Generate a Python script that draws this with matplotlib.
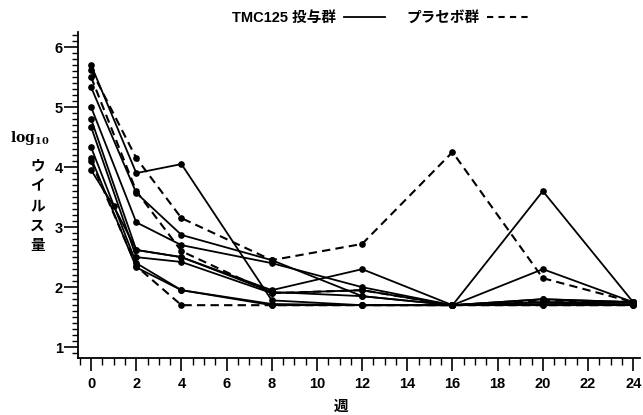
import numpy as np
import matplotlib
matplotlib.use('Agg')
import matplotlib.pyplot as plt
from matplotlib.lines import Line2D
from matplotlib.ticker import MultipleLocator

# フォント設定（日本語対応）
plt.rcParams['font.family'] = ['Liberation Sans', 'Noto Sans CJK JP']
plt.rcParams['axes.unicode_minus'] = False

# 測定週
weeks = [0, 1, 2, 4, 8, 12, 16, 20, 24]
nan = np.nan

# TMC125 投与群（実線）
tmc_1 = [5.70, nan, 3.90, 4.05, 1.78, 1.70, 1.70, 1.75, 1.75]
tmc_2 = [5.33, nan, 3.57, 2.87, 2.45, 1.85, 1.70, 3.60, 1.75]
tmc_3 = [5.00, nan, 3.08, 2.70, 2.40, 2.00, 1.70, 1.80, 1.75]
tmc_4 = [4.80, nan, 2.62, 2.50, 1.95, 2.30, 1.70, 2.30, 1.75]
tmc_5 = [4.67, nan, 2.50, 2.42, 1.90, 1.95, 1.70, 1.75, 1.70]
tmc_6 = [4.33, nan, 2.40, 1.95, 1.70, 1.70, 1.70, 1.70, 1.70]
tmc_7 = [3.95, 3.35, 2.62, 2.50, 1.92, 1.85, 1.70, 1.80, 1.75]
tmc_8 = [4.15, nan, 2.33, 1.95, 1.72, 1.70, 1.70, 1.72, 1.72]

# プラセボ群（破線）
pla_1 = [5.62, nan, 4.15, 3.15, 2.45, 2.72, 4.25, 2.15, 1.75]
pla_2 = [5.50, nan, 3.60, 2.60, 1.90, 1.95, 1.70, 1.78, 1.75]
pla_3 = [4.10, nan, 2.35, 1.70, 1.70, 1.70, 1.70, 1.70, 1.70]

tmc_series = [tmc_1, tmc_2, tmc_3, tmc_4, tmc_5, tmc_6, tmc_7, tmc_8]
pla_series = [pla_1, pla_2, pla_3]

fig = plt.figure(figsize=(6.43, 4.15), dpi=100)
ax = fig.add_axes([0.1213, 0.1373, 0.874, 0.7856])

x = np.array(weeks, dtype=float)

for s in tmc_series:
    y = np.array(s)
    m = ~np.isnan(y)
    ax.plot(x[m], y[m], color='black', lw=1.3, marker='o', markersize=3.8)
for s in pla_series:
    y = np.array(s)
    m = ~np.isnan(y)
    ax.plot(x[m], y[m], color='black', lw=1.5, linestyle=(0, (4, 2.5)),
            marker='o', markersize=3.8)

ax.set_xlim(-0.58, 24.3)
ax.set_ylim(0.82, 6.25)
ax.spines['top'].set_visible(False)
ax.spines['right'].set_visible(False)
ax.spines['left'].set_linewidth(1.3)
ax.spines['bottom'].set_linewidth(1.3)

ax.xaxis.set_major_locator(MultipleLocator(2))
ax.xaxis.set_minor_locator(MultipleLocator(0.5))
ax.yaxis.set_major_locator(MultipleLocator(1))
ax.yaxis.set_minor_locator(MultipleLocator(0.1))
ax.tick_params(axis='x', which='major', length=9, width=1.2, labelsize=10.5, pad=5)
ax.tick_params(axis='x', which='minor', length=5, width=1)
ax.tick_params(axis='y', which='major', length=10, width=1.2, labelsize=10.5, pad=1)
ax.tick_params(axis='y', which='minor', length=4, width=1)
for lab in ax.get_xticklabels() + ax.get_yticklabels():
    lab.set_fontweight('bold')

# 凡例（テキストの後に線）
handles = [Line2D([], [], color='black', lw=1.3),
           Line2D([], [], color='black', lw=1.5, linestyle=(0, (3, 2.5)))]
fig.legend(handles, ['TMC125 投与群', 'プラセボ群'], loc='center',
           bbox_to_anchor=(0.591, 0.957), ncol=2, frameon=False,
           markerfirst=False, handlelength=2.8, handletextpad=0.5,
           columnspacing=1.5, prop={'size': 10.5, 'weight': 'bold'})

# 軸ラベル
fig.text(0.047, 0.667, r'$\mathregular{log_{10}}$', fontsize=10,
         family='DejaVu Serif', ha='center', va='center', fontweight='bold')
fig.text(0.058, 0.505, 'ウ\nイ\nル\nス\n量', fontsize=10.5, ha='center', va='center',
         linespacing=1.3, fontweight='bold', family=['Noto Sans CJK JP'])
fig.text(0.530, 0.022, '週', fontsize=10.5, ha='center', va='center',
         fontweight='bold', family=['Noto Sans CJK JP'])

fig.savefig('out.png', dpi=100)
